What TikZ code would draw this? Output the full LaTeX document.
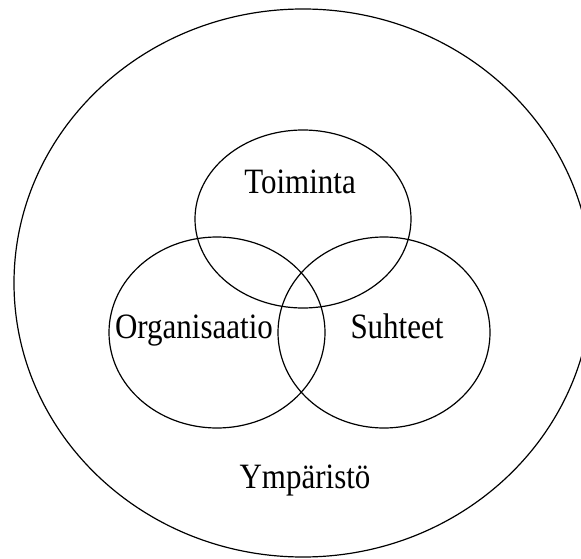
\documentclass[tikz,border=0pt]{standalone}
\usepackage{fontspec}
\setmainfont{Liberation Serif}
\usetikzlibrary{shapes.geometric}

\begin{document}
\begin{tikzpicture}[x=1pt, y=1pt, line width=1.2pt]

\tikzset{
  ring/.style={draw, ellipse, inner sep=0pt},
  word/.style={anchor=base, inner sep=0pt, font=\fontsize{31}{36}\selectfont}
}

\clip (0, 0) rectangle (581, 558);

% Outer ellipse
\node[ring, minimum width=578, minimum height=548] (ymparisto) at (303, 275) {};

% Three overlapping ellipses
\node[ring, minimum width=216, minimum height=178] (toiminta) at (303, 339) {};
\node[ring, minimum width=216, minimum height=191] (organisaatio) at (217, 225.5) {};
\node[ring, minimum width=212, minimum height=191] (suhteet) at (384, 225.5) {};

% Labels
\node[word] (toimintatext) at (300, 365) {\scalebox{1}[1.15]{Toiminta}};
\node[word] (organisaatiotext) at (194, 220) {\scalebox{1}[1.15]{Organisaatio}};
\node[word] (suhteettext) at (397, 220) {\scalebox{1}[1.15]{Suhteet}};
\node[word] (ymparistotext) at (305, 70) {\scalebox{1}[1.15]{Ympäristö}};

\end{tikzpicture}
\end{document}
